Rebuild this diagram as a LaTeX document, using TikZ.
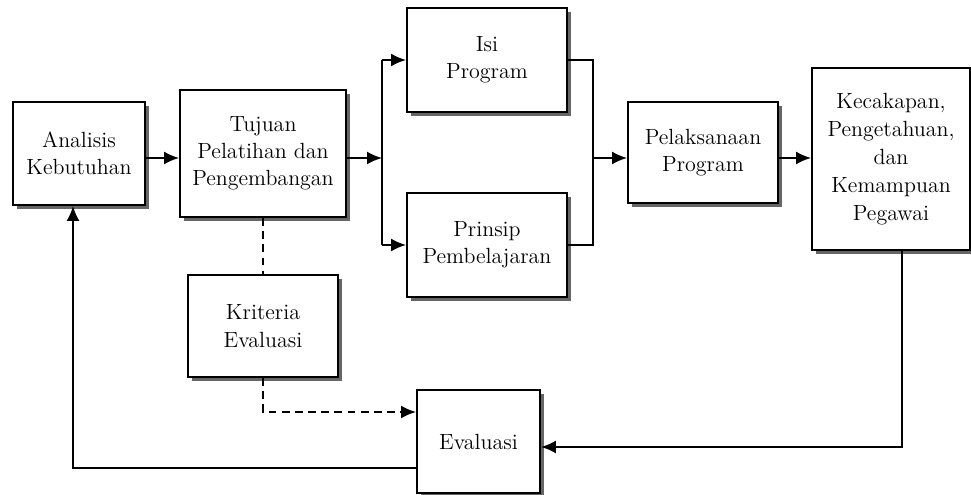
\documentclass[tikz,border=0pt]{standalone}
\usepackage{tikz}
\usetikzlibrary{arrows.meta,shadows}

\begin{document}
\begin{tikzpicture}[
    kotak/.style={draw=black, line width=1.1pt, fill=white, align=center,
        font=\fontsize{12.5}{15.5}\selectfont,
        drop shadow={shadow xshift=0.08cm, shadow yshift=-0.08cm, fill=black!60, opacity=1}},
    panah/.style={line width=1.1pt, -{Latex[length=3mm,width=2.6mm]}},
    garis/.style={line width=1.1pt},
    putus/.style={dash pattern=on 4.5pt off 3pt},
]
    \useasboundingbox (0,0) rectangle (19.42,9.9);

    % Boxes
    \node[kotak, minimum width=2.64cm, minimum height=2.06cm] (analisis) at (1.58,6.83) {Analisis\\Kebutuhan};
    \node[kotak, minimum width=3.32cm, minimum height=2.54cm] (tujuan) at (5.26,6.83) {Tujuan\\Pelatihan dan\\Pengembangan};
    \node[kotak, minimum width=3.2cm, minimum height=2.08cm] (isi) at (9.74,8.7) {Isi\\Program};
    \node[kotak, minimum width=3.2cm, minimum height=2.08cm] (prinsip) at (9.74,5.0) {Prinsip\\Pembelajaran};
    \node[kotak, minimum width=3.0cm, minimum height=2.02cm] (pelaksanaan) at (14.06,6.85) {Pelaksanaan\\Program};
    \node[kotak, minimum width=3.16cm, minimum height=3.64cm, font=\fontsize{12.5}{16}\selectfont] (kecakapan) at (17.82,6.72) {Kecakapan,\\Pengetahuan,\\dan\\Kemampuan\\Pegawai};
    \node[kotak, minimum width=3.0cm, minimum height=2.04cm] (kriteria) at (5.26,3.38) {Kriteria\\Evaluasi};
    \node[kotak, minimum width=2.46cm, minimum height=2.06cm] (evaluasi) at (9.57,1.07) {Evaluasi};

    % Junctions
    \coordinate (cabang) at (7.64,6.74);
    \coordinate (gabung) at (11.86,6.74);

    % Main flow
    \draw[panah] ([yshift=-0.09cm]analisis.east) -- ([yshift=-0.09cm]analisis.east -| tujuan.west);
    \draw[panah] (tujuan.east |- cabang) -- (cabang);
    \draw[garis] (cabang |- isi.west) -- (cabang |- prinsip.west);
    \draw[panah] (cabang |- isi.west) -- (isi.west);
    \draw[panah] (cabang |- prinsip.west) -- (prinsip.west);
    \draw[garis] (isi.east) -| (gabung) |- (prinsip.east);
    \draw[panah] (gabung) -- (gabung -| pelaksanaan.west);
    \draw[panah] (pelaksanaan.east |- gabung) -- (gabung -| kecakapan.west);

    % Feedback
    \draw[panah] ([xshift=0.22cm]kecakapan.south) |- ([yshift=-0.11cm]evaluasi.east);
    \draw[panah] ([yshift=-0.53cm]evaluasi.west) -| ([xshift=-0.12cm]analisis.south);

    % Dashed links
    \draw[garis, putus] (tujuan.south) -- (kriteria.north);
    \draw[panah, putus] (kriteria.south) |- ([yshift=0.59cm]evaluasi.west);
\end{tikzpicture}
\end{document}
